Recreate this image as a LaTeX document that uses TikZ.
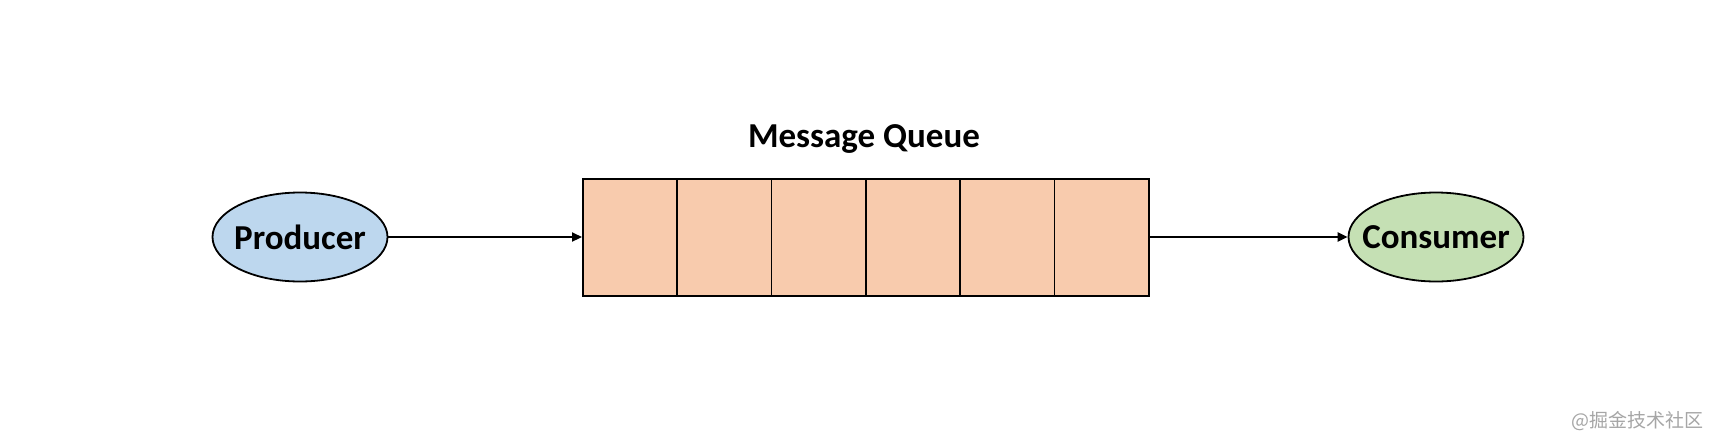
\documentclass[tikz,border=0pt]{standalone}
\usepackage{fontspec}
\setmainfont{Carlito}
\newfontfamily\cjkfont{Noto Sans CJK SC}
\usetikzlibrary{shapes.geometric,arrows.meta}
\definecolor{prodblue}{HTML}{BDD7EE}
\definecolor{consgreen}{HTML}{C5E0B4}
\definecolor{queuepeach}{HTML}{F8CBAD}
\tikzset{
  endpoint/.style={ellipse, draw=black, line width=1.8pt, minimum width=175pt, minimum height=89pt, inner sep=0pt, font=\fontsize{35}{40}\selectfont\bfseries},
  cell/.style={draw=black, fill=queuepeach, line width=1.7pt, minimum width=94.33pt, minimum height=117pt, inner sep=0pt, anchor=north west},
  flow/.style={line width=2.2pt, -{Triangle[length=10pt,width=9pt]}}
}
\begin{document}
\begin{tikzpicture}[x=1pt,y=-1pt]
\useasboundingbox (0,0) rectangle (1711,445);
\fill[white] (0,0) rectangle (1711,445);
\node[endpoint, fill=prodblue] (prod) at (300,237) {\makebox[0pt]{Producer}};
\node[endpoint, fill=consgreen] (cons) at (1436,237) {\makebox[0pt]{Consumer}};
\foreach \i in {0,...,5} {
  \node[cell] (c\i) at ({582+94.33*\i},178) {};
}
\node[font=\fontsize{35}{40}\selectfont\bfseries] (title) at (864,139) {Message Queue};
\draw[flow] (prod.east) -- (prod.east -| c0.west);
\draw[flow] (c5.east |- cons.west) -- (cons.west);
\node[font=\cjkfont\fontsize{19}{21}\selectfont, text=black!35, anchor=east] (wm) at (1707,421) {@掘金技术社区};
\end{tikzpicture}
\end{document}
